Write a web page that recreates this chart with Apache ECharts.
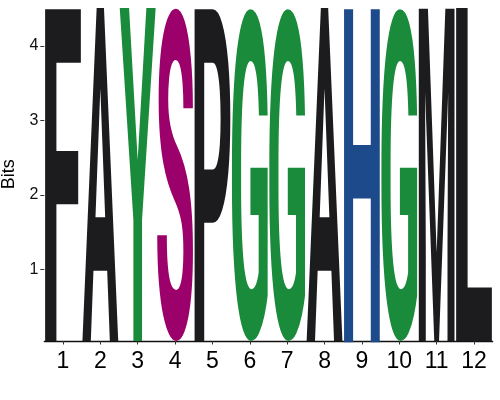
<!DOCTYPE html>
<html><head><meta charset="utf-8">
<script src="https://cdn.jsdelivr.net/npm/echarts@6/dist/echarts.min.js"></script>
<style>html,body{margin:0;padding:0;background:#fff}#c{width:500px;height:400px}</style>
</head><body><div id="c"></div>
<script>
// ---- data ----
const positions = ['1','2','3','4','5','6','7','8','9','10','11','12'];
const letters   = ['F','A','Y','S','P','G','G','A','H','G','M','L'];
const heights   = [4.52,4.52,4.52,4.52,4.52,4.52,4.52,4.52,4.52,4.52,4.52,4.52];
const yTicks    = [1,2,3,4];
const letterColors = {
  F:'#1c1b1e', A:'#1c1b1e', P:'#1c1b1e', M:'#1c1b1e', L:'#1c1b1e',
  Y:'#1a8a3b', G:'#1a8a3b',
  S:'#9c006a',
  H:'#1d4a8a'
};

// ---- glyph measurement (pixel scan, same font as rendering) ----
const FS = 200;
const FONT = 'bold ' + FS + 'px Roboto';
const mcv = document.createElement('canvas');
mcv.width = 500; mcv.height = 500;
const mctx = mcv.getContext('2d', {willReadFrequently:true});
const bboxCache = {};
function glyphBox(ch){
  if (bboxCache[ch]) return bboxCache[ch];
  const W = mcv.width, H = mcv.height, ox = 150, oy = 250;
  mctx.clearRect(0, 0, W, H);
  mctx.font = FONT; mctx.textBaseline = 'middle'; mctx.textAlign = 'left';
  mctx.fillStyle = '#000';
  mctx.fillText(ch, ox, oy);
  const d = mctx.getImageData(0, 0, W, H).data;
  const rowMax = new Float32Array(H), colMax = new Float32Array(W);
  for (let y = 0; y < H; y++) {
    for (let x = 0; x < W; x++) {
      const a = d[(y*W + x)*4 + 3];
      if (a > rowMax[y]) rowMax[y] = a;
      if (a > colMax[x]) colMax[x] = a;
    }
  }
  let t = 0; while (t < H && rowMax[t] === 0) t++;
  let b = H - 1; while (b > 0 && rowMax[b] === 0) b--;
  let l = 0; while (l < W && colMax[l] === 0) l++;
  let r = W - 1; while (r > 0 && colMax[r] === 0) r--;
  const box = {
    t: t + (1 - rowMax[t]/255) - oy,
    b: b + rowMax[b]/255 - oy,
    l: l + (1 - colMax[l]/255) - ox,
    r: r + colMax[r]/255 - ox
  };
  bboxCache[ch] = box; return box;
}

const Y_MIN = 0.036, Y_MAX = 4.52;

function renderItem(params, api){
  const i = api.value(0), h = api.value(1);
  const top = api.coord([i, h]);
  const bot = api.coord([i, Y_MIN]);
  const bw = api.size([1, 0])[0];
  const w = bw * 0.955;
  const x0 = top[0] - w/2, x1 = top[0] + w/2;
  const y0 = top[1], y1 = bot[1];
  const ch = letters[params.dataIndex];
  const b = glyphBox(ch);
  const sx = (x1 - x0) / (b.r - b.l);
  const sy = (y1 - y0) / (b.b - b.t);
  return {
    type:'text',
    x: x0 - sx*b.l, y: y0 - sy*b.t,
    scaleX: sx, scaleY: sy,
    style:{ text: ch, font: FONT, fill: letterColors[ch],
            align:'left', verticalAlign:'middle',
            textAlign:'left', textVerticalAlign:'middle' }
  };
}

const chart = echarts.init(document.getElementById('c'), null, {renderer:'canvas'});
chart.setOption({
  animation:false,
  grid:{left:44.3, right:7.3, top:7.4, bottom:59, containLabel:false, outerBoundsMode:'none'},
  xAxis:{
    type:'category', data:positions, boundaryGap:true,
    axisLine:{show:true, lineStyle:{color:'#111', width:1.3}},
    axisTick:{show:true, alignWithLabel:true, length:3.5, lineStyle:{color:'#333', width:1}},
    axisLabel:{fontSize:23, color:'#000', margin:9, fontFamily:'"Liberation Sans", Arial, sans-serif'},
    splitLine:{show:false}
  },
  yAxis:{
    type:'value', min:Y_MIN, max:Y_MAX,
    name:'Bits', nameLocation:'middle', nameGap:14.5,
    nameTextStyle:{fontSize:18, color:'#000', fontFamily:'"Liberation Sans", Arial, sans-serif'},
    axisLine:{show:false},
    axisTick:{show:true, length:4, customValues:yTicks, lineStyle:{color:'#333', width:1}},
    axisLabel:{customValues:yTicks, fontSize:16, color:'#111', margin:6, fontFamily:'"Liberation Sans", Arial, sans-serif'},
    splitLine:{show:false}
  },
  series:[{
    type:'custom', silent:true, clip:false,
    data: letters.map((l, i) => [i, heights[i]]),
    renderItem: renderItem
  }]
});
</script></body></html>
